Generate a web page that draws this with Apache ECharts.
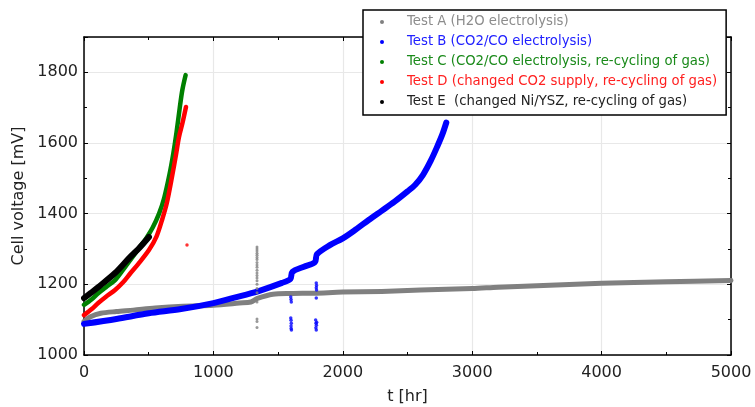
<!DOCTYPE html>
<html><head><meta charset="utf-8">
<script src="https://cdn.jsdelivr.net/npm/echarts@6/dist/echarts.min.js"></script>
<style>html,body{margin:0;padding:0;background:#fff}#c{width:755px;height:407px}</style>
</head><body><div id="c"></div>
<script>
// ---- data ----
const seriesNames = [
  'Test A (H2O electrolysis)',
  'Test B (CO2/CO electrolysis)',
  'Test C (CO2/CO electrolysis, re-cycling of gas)',
  'Test D (changed CO2 supply, re-cycling of gas)',
  'Test E  (changed Ni/YSZ, re-cycling of gas)'
];
const tA = [0, 50, 130, 250, 380, 550, 765, 1000, 1200, 1290, 1340, 1460, 1600, 1780, 2000, 2300, 2600, 3000, 3200, 3500, 4000, 4500, 5000];
const vA = [1095, 1108, 1118, 1123, 1127, 1133, 1138, 1141, 1147, 1150, 1160, 1172, 1174, 1175, 1178, 1180, 1184, 1188, 1192, 1196, 1203, 1207, 1211];
const tB = [0, 250, 500, 750, 1000, 1170, 1350, 1530, 1595, 1610, 1700, 1785, 1800, 1900, 2000, 2100, 2200, 2300, 2400, 2500, 2560, 2620, 2680, 2730, 2770, 2800];
const vB = [1088, 1102, 1118, 1130, 1147, 1163, 1181, 1204, 1215, 1235, 1250, 1263, 1285, 1311, 1330, 1355, 1382, 1408, 1434, 1463, 1482, 1510, 1550, 1590, 1625, 1658];
const tC = [0, 60, 110, 170, 240, 300, 360, 420, 480, 530, 580, 620, 660, 690, 715, 740, 760, 785];
const vC = [1142, 1158, 1175, 1192, 1212, 1240, 1270, 1300, 1330, 1360, 1400, 1445, 1510, 1570, 1630, 1700, 1750, 1792];
const tD = [0, 60, 110, 170, 240, 300, 360, 420, 502, 560, 603, 640, 680, 710, 734, 760, 788];
const vD = [1113, 1130, 1147, 1165, 1184, 1205, 1232, 1258, 1297, 1335, 1382, 1430, 1504, 1565, 1617, 1655, 1702];
const tE = [0, 50, 110, 240, 350, 420, 502];
const vE = [1161, 1175, 1192, 1232, 1275, 1300, 1334];
// outlier points
const outA_t = [1337,1337,1337,1337,1337,1337,1337,1337,1337,1337,1337,1337,1337,1337,1337,1337,1337,1337,1337,1337,1337,1337];
const outA_v = [1306,1300,1294,1288,1282,1276,1270,1262,1255,1248,1240,1232,1225,1218,1210,1200,1188,1176,1150,1102,1095,1078];
const outB_t = [1598,1600,1602,1598,1600,1602,1600,1601,1603,1795,1797,1795,1797,1795,1790,1793,1796,1792,1795,1798];
const outB_v = [1164,1157,1150,1105,1098,1090,1082,1075,1071,1204,1197,1190,1184,1161,1099,1090,1084,1077,1071,1093];
const outD_t = [796];
const outD_v = [1311];
const xTicks = [0, 1000, 2000, 3000, 4000, 5000];
const yTicks = [1000, 1200, 1400, 1600, 1800];

const colors = ['#808080', '#0000ff', '#008000', '#ff0000', '#000000'];
const textColors = ['#8c8c8c', '#2020ff', '#1a8a1a', '#ff2020', '#222222'];

const zip = (a, b) => a.map((x, i) => [x, b[i]]);
const font = 'DejaVu Sans';

const lineSeries = (name, t, v, color, w) => ({
  name, type: 'line', data: zip(t, v), smooth: 0.3, symbol: 'none',
  lineStyle: { color, width: w, cap: 'round', join: 'round' }, itemStyle: { color }, z: 3
});
const dotSeries = (name, t, v, color, s) => ({
  name, type: 'scatter', data: zip(t, v), symbolSize: s,
  itemStyle: { color }, z: 3
});

const chart = echarts.init(document.getElementById('c'), null, { renderer: 'canvas' });
const axisCommon = {
  axisLine: { show: true, onZero: false, lineStyle: { color: '#000', width: 1.5 } },
  axisTick: { show: true, inside: true, length: 4, lineStyle: { color: '#000' } },
  minorTick: { show: true, splitNumber: 2, length: 3, lineStyle: { color: '#000' } },
};
chart.setOption({
  animation: false,
  grid: { left: 84, top: 37, right: 24, bottom: 52, containLabel: false, outerBoundsMode: 'none' },
  legend: {
    orient: 'vertical', left: 363, top: 10,
    backgroundColor: '#fff', borderColor: '#000', borderWidth: 1.5,
    padding: [4, 9, 5, 17], itemGap: 4, icon: 'circle', itemWidth: 4, itemHeight: 4,
    textStyle: { fontFamily: font, fontSize: 13.25, lineHeight: 16, padding: [0, 0, 0, 18] },
    data: seriesNames.map((n, i) => ({ name: n, textStyle: { color: textColors[i] }, itemStyle: { color: colors[i] } })),
    z: 10
  },
  xAxis: [{
    type: 'value', min: 0, max: 5000, interval: 1000, position: 'bottom',
    name: 't [hr]', nameLocation: 'middle', nameGap: 34,
    nameTextStyle: { fontFamily: font, fontSize: 16, color: '#222' },
    axisLabel: { fontFamily: font, fontSize: 16, color: '#222', margin: 10,
      formatter: v => xTicks.includes(v) ? String(v) : '' },
    splitLine: { show: true, lineStyle: { color: '#e8e8e8', width: 1.2 } },
    ...axisCommon
  }, {
    type: 'value', min: 0, max: 5000, interval: 1000, position: 'top',
    axisLabel: { show: false }, splitLine: { show: false }, ...axisCommon
  }],
  yAxis: [{
    type: 'value', min: 1000, max: 1900, interval: 200, position: 'left',
    name: 'Cell voltage [mV]', nameLocation: 'middle', nameGap: 53,
    nameTextStyle: { fontFamily: font, fontSize: 16, color: '#222' },
    axisLabel: { fontFamily: font, fontSize: 16, color: '#222', margin: 6,
      formatter: v => yTicks.includes(v) ? String(v) : '' },
    splitLine: { show: true, lineStyle: { color: '#e8e8e8', width: 1.2 } },
    ...axisCommon
  }, {
    type: 'value', min: 1000, max: 1900, interval: 200, position: 'right',
    axisLabel: { show: false }, splitLine: { show: false }, ...axisCommon
  }],
  series: [
    lineSeries(seriesNames[0], tA, vA, colors[0], 5),
    dotSeries(seriesNames[0], outA_t, outA_v, colors[0], 3),
    lineSeries(seriesNames[1], tB, vB, colors[1], 6),
    dotSeries(seriesNames[1], outB_t, outB_v, colors[1], 3.5),
    lineSeries(seriesNames[2], tC, vC, colors[2], 4.5),
    lineSeries(seriesNames[3], tD, vD, colors[3], 4.5),
    dotSeries(seriesNames[3], outD_t, outD_v, colors[3], 3.5),
    lineSeries(seriesNames[4], tE, vE, colors[4], 6)
  ]
});
</script></body></html>
